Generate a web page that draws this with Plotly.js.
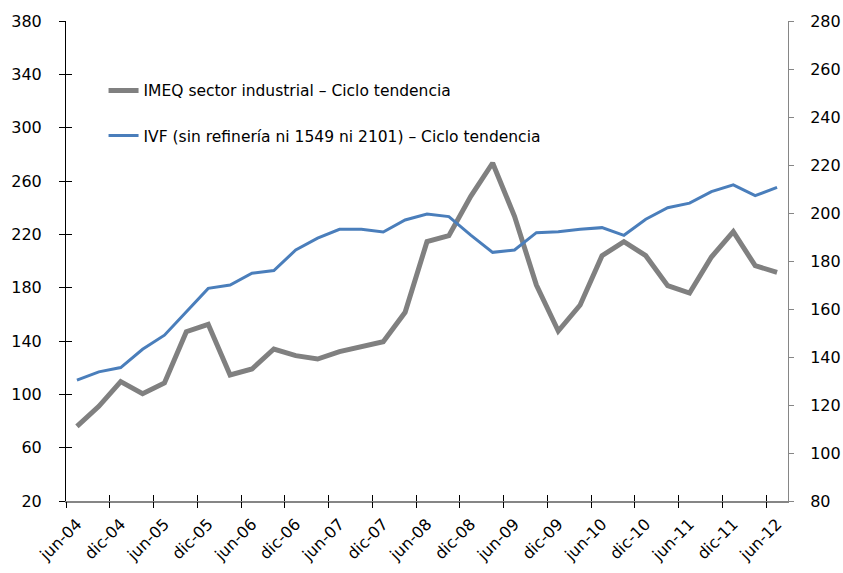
<!DOCTYPE html>
<html>
<head>
<meta charset="utf-8">
<script src="https://cdn.plot.ly/plotly-3.0.1.min.js"></script>
<style>html,body{margin:0;padding:0;background:#fff;}#chart{width:843px;height:573px;}</style>
</head>
<body>
<div id="chart"></div>
<script>
// Quarterly categories, jun-04 .. jun-12
const categories = ["jun-04","sep-04","dic-04","mar-05","jun-05","sep-05","dic-05","mar-06","jun-06","sep-06","dic-06","mar-07","jun-07","sep-07","dic-07","mar-08","jun-08","sep-08","dic-08","mar-09","jun-09","sep-09","dic-09","mar-10","jun-10","sep-10","dic-10","mar-11","jun-11","sep-11","dic-11","mar-12","jun-12"];
// Left axis series
const imeq = [76,91,109.5,100.5,108.5,147,152.5,114.5,119,134,129,126.5,132,136,139.5,161.5,214.5,219,248.5,273.5,233.5,182,147.5,167,204,214.5,204,181.5,176,203,222,196.5,191.5];
// Right axis series
const ivf = [130.4,133.8,135.6,143.2,149.1,158.8,168.6,170,174.9,176,184.6,189.5,193.2,193.2,192.1,197.1,199.6,198.5,190.8,183.6,184.6,191.8,192.2,193.2,193.9,190.7,197.4,202.2,204.1,208.9,211.7,207.2,210.7];
const name1 = "IMEQ sector industrial – Ciclo tendencia";
const name2 = "IVF (sin refinería ni 1549 ni 2101) – Ciclo tendencia";
const leftTicks = [20,60,100,140,180,220,260,300,340,380];
const rightTicks = [80,100,120,140,160,180,200,220,240,260,280];

const idx = categories.map((c,i)=>i);
const labelIdx = idx.filter(i=>i%2===0);
const labelText = labelIdx.map(i=>categories[i]);

const FONT = "DejaVu Sans, Verdana, sans-serif";
const xr = [-0.5, categories.length-0.5];

const traces = [
  {x: idx, y: imeq, name: name1, type:'scatter', mode:'lines', xaxis:'x', yaxis:'y',
   line:{color:'#808080', width:5}, legendgroup:'a', hoverinfo:'skip'},
  {x: idx, y: ivf, name: name2, type:'scatter', mode:'lines', xaxis:'x', yaxis:'y2',
   line:{color:'#4a7ebb', width:3}, legendgroup:'b', hoverinfo:'skip'},
  {x:[0], y:[null], xaxis:'x2', yaxis:'y', showlegend:false, hoverinfo:'skip', mode:'lines'},
  {x:[0], y:[null], xaxis:'x3', yaxis:'y', showlegend:false, hoverinfo:'skip', mode:'lines'},
  {x:[0], y:[null], xaxis:'x', yaxis:'y3', showlegend:false, hoverinfo:'skip', mode:'lines'}
];

const tickAx = (t)=>({overlaying:'x', anchor:'y', range:xr, tickmode:'linear', tick0:-0.5, dtick:2,
  ticks:t, ticklen:6, tickcolor:'#000', tickwidth:1, showticklabels:false, showline:false,
  showgrid:false, zeroline:false, fixedrange:true});

const layout = {
  width:843, height:573,
  margin:{l:66, r:54.5, t:21.3, b:72.3},
  paper_bgcolor:'#fff', plot_bgcolor:'#fff',
  font:{family:FONT, size:16, color:'#000'},
  showlegend:true,
  legend:{x:0.052, y:0.89, xanchor:'left', yanchor:'top', bgcolor:'rgba(0,0,0,0)',
    font:{family:FONT, size:15.5, color:'#000'}, traceorder:'grouped', tracegroupgap:22, itemwidth:30},
  xaxis:{type:'linear', range:xr, tickmode:'array', tickvals:labelIdx, ticktext:labelText,
    tickangle:-45, ticks:'', ticklabelstandoff:6, showgrid:false, zeroline:false,
    showline:true, linecolor:'#868686', linewidth:1.5, tickfont:{family:FONT, size:16}},
  xaxis2: tickAx('outside'),
  xaxis3: tickAx('inside'),
  yaxis:{range:[20,380], tickmode:'array', tickvals:leftTicks, ticks:'outside', ticklen:6,
    tickcolor:'#000', showline:true, linecolor:'#000', linewidth:1, showgrid:false, zeroline:false,
    ticklabelstandoff:14, tickfont:{family:FONT, size:16}},
  yaxis3:{overlaying:'y', anchor:'x', range:[20,380], tickmode:'array', tickvals:leftTicks,
    ticks:'inside', ticklen:6, tickcolor:'#000', showticklabels:false, showline:false,
    showgrid:false, zeroline:false},
  yaxis2:{overlaying:'y', side:'right', anchor:'x', range:[80,280], tickmode:'array', tickvals:rightTicks,
    ticks:'outside', ticklen:5, tickcolor:'#868686', showline:true, linecolor:'#868686', linewidth:1,
    showgrid:false, zeroline:false, ticklabelstandoff:13, tickfont:{family:FONT, size:16}}
};

Plotly.newPlot('chart', traces, layout, {staticPlot:true, displayModeBar:false});
</script>
</body>
</html>
